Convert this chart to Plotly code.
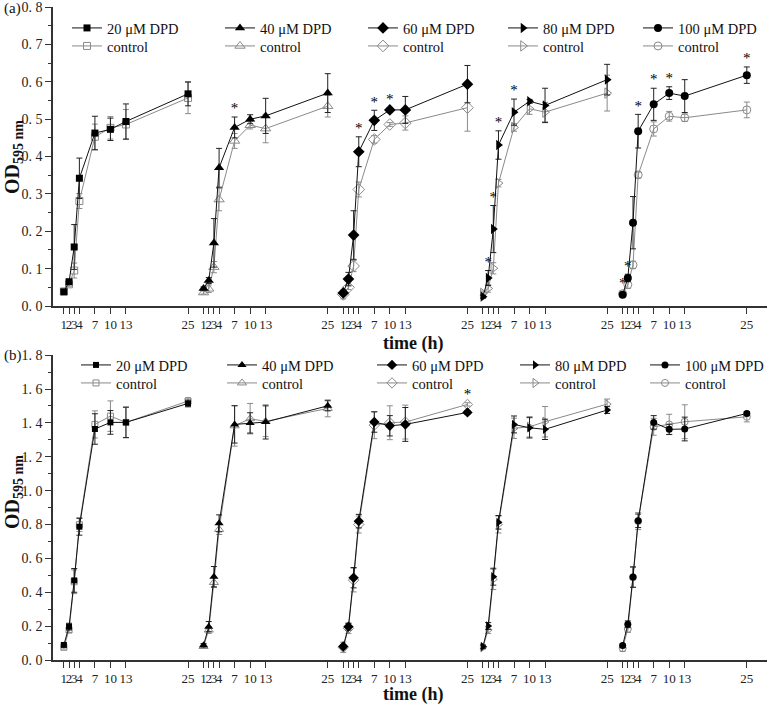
import plotly.graph_objects as go

# ---------------- data ----------------
times = [1, 2, 3, 4, 7, 10, 13, 25]
time_labels = ["1", "2", "3", "4", "7", "10", "13", "25"]
doses = [20, 40, 60, 80, 100]
group_gap = 27  # hours between the starts of consecutive dose groups on the shared axis

# Panel (a)
a_dpd20 = [0.038, 0.065, 0.158, 0.342, 0.463, 0.473, 0.494, 0.568]
a_dpd20_err = [0.003, 0.006, 0.060, 0.054, 0.045, 0.030, 0.047, 0.032]
a_ctl20 = [0.039, 0.058, 0.095, 0.281, 0.453, 0.477, 0.486, 0.557]
a_ctl20_err = [0.003, 0.005, 0.020, 0.020, 0.034, 0.030, 0.040, 0.042]
a_dpd40 = [0.047, 0.068, 0.169, 0.370, 0.478, 0.500, 0.509, 0.570]
a_dpd40_err = [0.004, 0.008, 0.065, 0.052, 0.028, 0.012, 0.047, 0.052]
a_ctl40 = [0.036, 0.046, 0.104, 0.285, 0.442, 0.484, 0.475, 0.535]
a_ctl40_err = [0.004, 0.010, 0.015, 0.030, 0.020, 0.010, 0.038, 0.029]
a_dpd60 = [0.035, 0.072, 0.190, 0.413, 0.497, 0.525, 0.525, 0.594]
a_dpd60_err = [0.004, 0.018, 0.065, 0.040, 0.027, 0.005, 0.036, 0.050]
a_ctl60 = [0.031, 0.050, 0.107, 0.312, 0.446, 0.486, 0.490, 0.531]
a_ctl60_err = [0.012, 0.006, 0.015, 0.020, 0.010, 0.005, 0.019, 0.063]
a_dpd80 = [0.025, 0.075, 0.206, 0.431, 0.519, 0.548, 0.537, 0.606]
a_dpd80_err = [0.004, 0.020, 0.063, 0.038, 0.035, 0.005, 0.046, 0.041]
a_ctl80 = [0.034, 0.047, 0.101, 0.329, 0.478, 0.528, 0.519, 0.570]
a_ctl80_err = [0.006, 0.010, 0.015, 0.010, 0.010, 0.015, 0.026, 0.048]
a_dpd100 = [0.030, 0.075, 0.223, 0.468, 0.540, 0.570, 0.562, 0.618]
a_dpd100_err = [0.004, 0.010, 0.070, 0.045, 0.043, 0.017, 0.044, 0.022]
a_ctl100 = [0.033, 0.057, 0.110, 0.351, 0.474, 0.508, 0.504, 0.525]
a_ctl100_err = [0.004, 0.010, 0.010, 0.008, 0.019, 0.013, 0.010, 0.021]
# significance (*) per dose group, as times
a_sig20 = []
a_sig40 = [7]
a_sig60 = [4, 7, 10]
a_sig80 = [2, 3, 4, 7]
a_sig100 = [1, 2, 4, 7, 10, 25]

# Panel (b)
b_dpd20 = [0.089, 0.197, 0.470, 0.787, 1.364, 1.403, 1.403, 1.515]
b_dpd20_err = [0.010, 0.020, 0.070, 0.050, 0.090, 0.070, 0.090, 0.020]
b_ctl20 = [0.075, 0.177, 0.462, 0.799, 1.391, 1.440, 1.403, 1.529]
b_ctl20_err = [0.010, 0.015, 0.070, 0.040, 0.080, 0.090, 0.090, 0.020]
b_dpd40 = [0.087, 0.197, 0.492, 0.807, 1.391, 1.400, 1.405, 1.501]
b_dpd40_err = [0.010, 0.030, 0.060, 0.050, 0.110, 0.060, 0.100, 0.030]
b_ctl40 = [0.080, 0.177, 0.458, 0.771, 1.383, 1.425, 1.409, 1.486]
b_ctl40_err = [0.010, 0.020, 0.030, 0.030, 0.120, 0.090, 0.090, 0.050]
b_dpd60 = [0.080, 0.197, 0.486, 0.820, 1.405, 1.383, 1.391, 1.462]
b_dpd60_err = [0.010, 0.020, 0.060, 0.040, 0.060, 0.060, 0.100, 0.010]
b_ctl60 = [0.075, 0.187, 0.472, 0.800, 1.387, 1.401, 1.405, 1.509]
b_ctl60_err = [0.030, 0.030, 0.070, 0.050, 0.080, 0.100, 0.100, 0.010]
b_dpd80 = [0.079, 0.201, 0.492, 0.813, 1.391, 1.371, 1.362, 1.476]
b_dpd80_err = [0.010, 0.020, 0.050, 0.040, 0.050, 0.060, 0.060, 0.020]
b_ctl80 = [0.075, 0.177, 0.476, 0.800, 1.368, 1.377, 1.407, 1.511]
b_ctl80_err = [0.010, 0.020, 0.060, 0.050, 0.060, 0.060, 0.090, 0.030]
b_dpd100 = [0.085, 0.211, 0.490, 0.822, 1.403, 1.362, 1.364, 1.456]
b_dpd100_err = [0.010, 0.020, 0.060, 0.040, 0.040, 0.030, 0.070, 0.010]
b_ctl100 = [0.070, 0.183, 0.488, 0.820, 1.377, 1.391, 1.407, 1.436]
b_ctl100_err = [0.020, 0.020, 0.060, 0.050, 0.050, 0.060, 0.100, 0.030]
b_sig20 = []
b_sig40 = []
b_sig60 = [25]
b_sig80 = []
b_sig100 = []

a_y_ticks = [0.0, 0.1, 0.2, 0.3, 0.4, 0.5, 0.6, 0.7, 0.8]
a_y_labels = ["0. 0", "0. 1", "0. 2", "0. 3", "0. 4", "0. 5", "0. 6", "0. 7", "0. 8"]
b_y_ticks = [0.0, 0.2, 0.4, 0.6, 0.8, 1.0, 1.2, 1.4, 1.6, 1.8]
b_y_labels = ["0. 0", "0. 2", "0. 4", "0. 6", "0. 8", "1. 0", "1. 2", "1. 4", "1. 6", "1. 8"]

# ---------------- styling / layout helpers ----------------
W, H = 777, 704
ML, MR, MT, MB = 53, 10, 7, 44
PW, PH = W - ML - MR, H - MT - MB
def fx(px):
    return (px - ML) / PW
def fy(py):
    return (H - MB - py) / PH

SERIF = "Liberation Serif"
CTL_GRAY = "#8a8a8a"
symbols = ["square", "triangle-up", "diamond", "triangle-right", "circle"]
sizes_a = [7, 9, 9, 9, 8]
sizes_b = [6, 8, 8, 8, 7]

panels = [
    dict(key="a", xa="x", ya="y",
         dpd=[a_dpd20, a_dpd40, a_dpd60, a_dpd80, a_dpd100],
         dpd_err=[a_dpd20_err, a_dpd40_err, a_dpd60_err, a_dpd80_err, a_dpd100_err],
         ctl=[a_ctl20, a_ctl40, a_ctl60, a_ctl80, a_ctl100],
         ctl_err=[a_ctl20_err, a_ctl40_err, a_ctl60_err, a_ctl80_err, a_ctl100_err],
         sig=[a_sig20, a_sig40, a_sig60, a_sig80, a_sig100],
         sizes=sizes_a,
         leg_text_x=[107, 260, 403, 543, 678], leg_rows=[28, 46]),
    dict(key="b", xa="x2", ya="y2",
         dpd=[b_dpd20, b_dpd40, b_dpd60, b_dpd80, b_dpd100],
         dpd_err=[b_dpd20_err, b_dpd40_err, b_dpd60_err, b_dpd80_err, b_dpd100_err],
         ctl=[b_ctl20, b_ctl40, b_ctl60, b_ctl80, b_ctl100],
         ctl_err=[b_ctl20_err, b_ctl40_err, b_ctl60_err, b_ctl80_err, b_ctl100_err],
         sig=[b_sig20, b_sig40, b_sig60, b_sig80, b_sig100],
         sizes=sizes_b,
         leg_text_x=[116, 262, 412, 555, 685], leg_rows=[365, 383]),
]

fig = go.Figure()
legend_layouts = {}
leg_idx = 0

for pi, p in enumerate(panels):
    for k, dose in enumerate(doses):
        xs = [t + k * group_gap for t in times]
        names = [f"{dose} μM DPD", "control"]
        legs = []
        for r in range(2):
            leg_idx += 1
            lname = "legend" if leg_idx == 1 else f"legend{leg_idx}"
            legs.append(lname)
            legend_layouts[lname] = dict(
                x=fx(p["leg_text_x"][k] - 40), xanchor="left",
                y=fy(p["leg_rows"][r]), yanchor="middle",
                bgcolor="rgba(0,0,0,0)", borderwidth=0,
                font=dict(family=SERIF, size=14.5, color="#111"),
                itemwidth=30,
            )
        # control (drawn first, below)
        fig.add_trace(go.Scatter(
            x=xs, y=p["ctl"][k], name=names[1], mode="lines+markers",
            xaxis=p["xa"], yaxis=p["ya"], legend=legs[1],
            line=dict(color=CTL_GRAY, width=1),
            marker=dict(symbol=symbols[k] + "-open", size=p["sizes"][k],
                        color=CTL_GRAY, line=dict(width=1, color=CTL_GRAY)),
            error_y=dict(type="data", array=p["ctl_err"][k], color=CTL_GRAY,
                         thickness=1, width=3),
            cliponaxis=False,
        ))
        fig.add_trace(go.Scatter(
            x=xs, y=p["dpd"][k], name=names[0], mode="lines+markers",
            xaxis=p["xa"], yaxis=p["ya"], legend=legs[0],
            line=dict(color="#111111", width=1),
            marker=dict(symbol=symbols[k], size=p["sizes"][k], color="#000000",
                        line=dict(width=0)),
            error_y=dict(type="data", array=p["dpd_err"][k], color="#222222",
                         thickness=1, width=3),
            cliponaxis=False,
        ))
        # significance stars above the higher error bar
        sx, sy = [], []
        for t in p["sig"][k]:
            i = times.index(t)
            top = max(p["dpd"][k][i] + p["dpd_err"][k][i],
                      p["ctl"][k][i] + p["ctl_err"][k][i])
            sx.append(t + k * group_gap)
            sy.append(top)
        if sx:
            fig.add_trace(go.Scatter(
                x=sx, y=sy, mode="text", text=["*"] * len(sx),
                textposition="top center",
                textfont=dict(family=SERIF, size=15, color="#000000"),
                xaxis=p["xa"], yaxis=p["ya"], showlegend=False,
                cliponaxis=False, hoverinfo="skip",
            ))

tickvals = [t + k * group_gap for k in range(len(doses)) for t in times]
ticktext = time_labels * len(doses)
x_common = dict(
    range=[-1.1, 136.9], tickmode="array", tickvals=tickvals, ticktext=ticktext,
    tickangle=0, ticks="outside", ticklen=6, tickwidth=1.2, tickcolor="#333",
    showline=True, linecolor="#333", linewidth=1.5, showgrid=False, zeroline=False,
    tickfont=dict(family=SERIF, size=13, color="#222"),
)
y_common = dict(
    tickmode="array", ticks="outside", ticklen=6, tickwidth=1.2, tickcolor="#333",
    showline=True, linecolor="#333", linewidth=1.5, showgrid=False, zeroline=False,
    tickfont=dict(family=SERIF, size=14, color="#222"),
    ticklabeloverflow="allow",
)

fig.update_layout(
    width=W, height=H,
    margin=dict(l=ML, r=MR, t=MT, b=MB, autoexpand=False),
    paper_bgcolor="white", plot_bgcolor="white",
    font=dict(family=SERIF, color="#111"),
    xaxis=dict(**x_common, anchor="y", domain=[0, 1]),
    xaxis2=dict(**x_common, anchor="y2", domain=[0, 1]),
    yaxis=dict(**y_common, anchor="x", domain=[fy(306), 1.0], range=[0, 0.8005],
               tickvals=a_y_ticks, ticktext=a_y_labels,
               minor=dict(dtick=0.05, tick0=0, ticks="outside", ticklen=3,
                          tickcolor="#333", showgrid=False)),
    yaxis2=dict(**y_common, anchor="x2", domain=[0, fy(355)], range=[0, 1.801],
                tickvals=b_y_ticks, ticktext=b_y_labels,
                minor=dict(dtick=0.1, tick0=0, ticks="outside", ticklen=3,
                           tickcolor="#333", showgrid=False)),
    showlegend=True,
    **legend_layouts,
)

annotations = [
    dict(text="(a)", x=fx(2), y=fy(8), xanchor="left", yanchor="middle"),
    dict(text="(b)", x=fx(2), y=fy(355), xanchor="left", yanchor="middle"),
    dict(text="<b>time (h)</b>", x=fx(413), y=fy(343), xanchor="center", yanchor="middle",
         font=dict(family=SERIF, size=18, color="#111")),
    dict(text="<b>time (h)</b>", x=fx(413), y=fy(694), xanchor="center", yanchor="middle",
         font=dict(family=SERIF, size=18, color="#111")),
    dict(text="<b>OD<sub>595 nm</sub></b>", x=fx(13), y=fy(157), xanchor="center",
         yanchor="middle", textangle=-90, font=dict(family=SERIF, size=20, color="#111")),
    dict(text="<b>OD<sub>595 nm</sub></b>", x=fx(13), y=fy(492), xanchor="center",
         yanchor="middle", textangle=-90, font=dict(family=SERIF, size=20, color="#111")),
]
for a in annotations:
    a.setdefault("font", dict(family=SERIF, size=15, color="#111"))
    fig.add_annotation(xref="paper", yref="paper", showarrow=False, **a)

# remove the browser's default 8px page margin so the figure sits at the window's corner
fig.write_html("out.html",
               config={"displayModeBar": False},
               post_script="document.body.style.margin='0';document.body.style.overflow='hidden';")
